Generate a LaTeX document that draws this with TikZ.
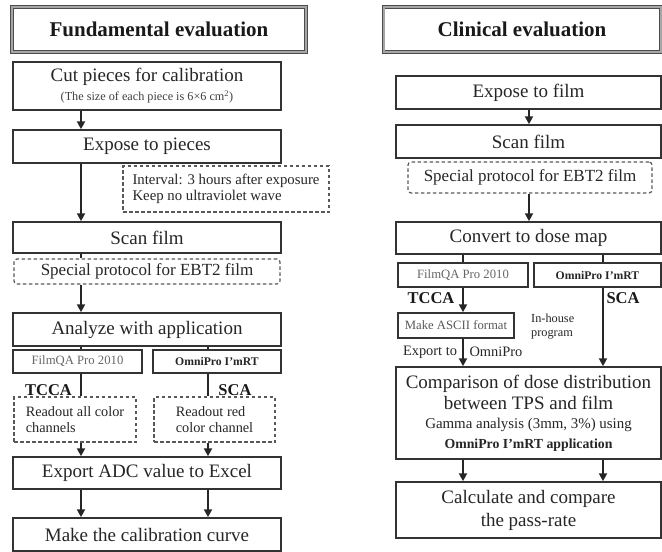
\documentclass[tikz,border=0pt]{standalone}
\usepackage{fontspec}
\setmainfont{Liberation Serif}
\usetikzlibrary{arrows.meta}
\newcommand{\fsz}[2]{\fontsize{#1}{#2}\selectfont}
\begin{document}
\begin{tikzpicture}[x=1pt,y=-1pt,
  box/.style={draw=black!80, line width=1.5pt, fill=white, inner sep=0pt, align=center, text=black!85, font=\fsz{19}{22}},
  titlebox/.style={draw=black!70, line width=0.8pt, double=black!35, double distance=2pt, fill=white, inner sep=0pt, text=black!90, font=\bfseries\fsz{21}{24}},
  note/.style={draw=black!65, dash pattern=on 3.5pt off 2.5pt, line width=1.2pt, fill=white, inner sep=0pt, text=black!85},
  small/.style={box, font=\fsz{12.7}{15}, text=black!60},
  smallb/.style={box, font=\bfseries\fsz{11.7}{14}},
  lbl/.style={inner sep=0pt, text=black!90, font=\bfseries\fsz{16.5}{18}},
  plain/.style={inner sep=0pt, text=black!85},
  arr/.style={line width=2pt, draw=black!85, -{Triangle[width=8pt,length=8pt]}},
  ln/.style={line width=2pt, draw=black!85}
]
\useasboundingbox (0,0) rectangle (662,552);

% ---------------- left column ----------------
\node[titlebox, minimum width=294pt, minimum height=45pt] (t1) at (159,29.5) {Fundamental evaluation};
\node[box, minimum width=268pt, minimum height=48pt] (cut) at (147,86)
  {Cut pieces for calibration\\[-3pt]{\fsz{12.2}{13}\color{black!75}(The size of each piece is 6×6 cm\textsuperscript{2})}};
\node[box, minimum width=268pt, minimum height=33pt] (expose) at (147,146.5) {Expose to pieces};
\node[note, minimum width=206pt, minimum height=46pt, align=left, font=\fsz{14.8}{16.5}] (intv) at (226,189)
  {Interval: 3 hours after exposure\\Keep no ultraviolet wave};
\node[box, minimum width=268pt, minimum height=31pt] (scan) at (147,237.5) {Scan film};
\node[note, rounded corners=3pt, minimum width=266pt, minimum height=25pt, font=\fsz{17}{19}] (sp1) at (147,271.5) {Special protocol for EBT2 film};
\node[box, minimum width=268pt, minimum height=33pt] (an) at (147,329.5) {Analyze with application};
\node[small, minimum width=129pt, minimum height=23pt] (fq1) at (77.5,361.5) {FilmQA Pro 2010};
\node[smallb, minimum width=128pt, minimum height=23pt] (om1) at (217,361.5) {OmniPro I’mRT};
\node[note, minimum width=122pt, minimum height=45pt, align=left, font=\fsz{14.3}{16.5}] (ra) at (75,419.5) {Readout all color\\channels};
\node[note, minimum width=121pt, minimum height=45pt, align=left, font=\fsz{14.3}{16.5}] (rr) at (214.5,419.5) {Readout red\\color channel};
\node[box, minimum width=268pt, minimum height=32pt] (ex) at (147,473) {Export ADC value to Excel};
\node[box, minimum width=268pt, minimum height=33pt] (mk) at (147,534.5) {Make the calibration curve};
\node[lbl] (tcca1) at (48.5,390) {TCCA};
\node[lbl] (sca1) at (235,390) {SCA};

\coordinate (L) at (81,0);
\coordinate (R) at (208,0);
\draw[arr] (cut.south -| L) -- (expose.north -| L);
\draw[arr] (expose.south -| L) -- (scan.north -| L);
\draw[ln] (scan.south -| L) -- (sp1.north -| L);
\draw[arr] (sp1.south -| L) -- (an.north -| L);
\draw[ln] (an.south -| L) -- (fq1.north -| L);
\draw[ln] (an.south -| R) -- (om1.north -| R);
\draw[ln] (fq1.south -| L) -- (ra.north -| L);
\draw[ln] (om1.south -| R) -- (rr.north -| R);
\draw[arr] (ra.south -| L) -- (ex.north -| L);
\draw[arr] (rr.south -| R) -- (ex.north -| R);
\draw[arr] (ex.south -| L) -- (mk.north -| L);
\draw[arr] (ex.south -| R) -- (mk.north -| R);

% ---------------- right column ----------------
\node[titlebox, minimum width=277pt, minimum height=45pt] (t2) at (522,29.5) {Clinical evaluation};
\node[box, minimum width=265pt, minimum height=33pt] (ef) at (528.5,92.5) {Expose to film};
\node[box, minimum width=265pt, minimum height=33pt] (sf) at (528.5,141.5) {Scan film};
\node[note, rounded corners=3pt, minimum width=244pt, minimum height=31pt, font=\fsz{17}{19}] (sp2) at (530,177.5) {Special protocol for EBT2 film};
\node[box, minimum width=265pt, minimum height=32pt] (cv) at (528.5,238) {Convert to dose map};
\node[small, minimum width=130pt, minimum height=24pt] (fq2) at (463,275) {FilmQA Pro 2010};
\node[smallb, minimum width=127pt, minimum height=24pt] (om2) at (597.5,275) {OmniPro I’mRT};
\node[small, minimum width=116pt, minimum height=25pt, text=black!65] (as) at (456,325.5) {Make ASCII format};
\node[box, minimum width=265pt, minimum height=92pt] (cp) at (528.5,413)
  {Comparison of dose distribution\\[-1pt]between TPS and film\\[-3pt]
   {\fsz{14.9}{18}Gamma analysis (3mm, 3\%) using}\\[-2pt]
   {\bfseries\fsz{13.8}{16}OmniPro I’mRT application}};
\node[box, minimum width=265pt, minimum height=56pt] (cl) at (528.5,510) {Calculate and compare\\[1pt]the pass-rate};
\node[lbl] (tcca2) at (431,298) {TCCA};
\node[lbl] (sca2) at (623,298) {SCA};
\node[plain, anchor=west, align=left, font=\fsz{12.3}{14}] (inh) at (531,327) {In-house\\program};
\node[plain, font=\fsz{14.4}{16}] (expt) at (430,352) {Export to};
\node[plain, font=\fsz{14.4}{16}] (omp) at (496,352) {OmniPro};

\coordinate (A) at (463,0);
\coordinate (B) at (603,0);
\coordinate (M) at (529,0);
\draw[arr] (ef.south -| M) -- (sf.north -| M);
\draw[arr] (sp2.south -| M) -- (cv.north -| M);
\draw[ln] (cv.south -| A) -- (fq2.north -| A);
\draw[ln] (cv.south -| B) -- (om2.north -| B);
\draw[arr] (fq2.south -| A) -- (as.north -| A);
\draw[arr] (as.south -| A) -- (cp.north -| A);
\draw[arr] (om2.south -| B) -- (cp.north -| B);
\draw[arr] (cp.south -| A) -- (cl.north -| A);
\draw[arr] (cp.south -| B) -- (cl.north -| B);
\end{tikzpicture}
\end{document}
